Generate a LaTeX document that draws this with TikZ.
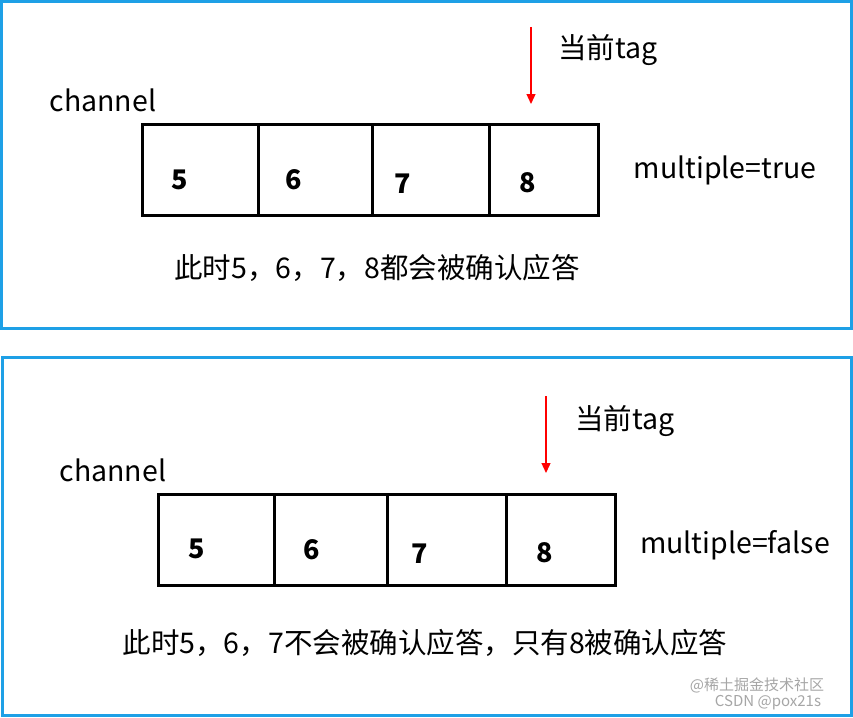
\documentclass[tikz,border=0pt]{standalone}
\usepackage{fontspec}
\setmainfont{Noto Sans CJK SC}
\begin{document}
\begin{tikzpicture}[x=1pt,y=-1pt,
  frame/.style={draw={rgb,255:red,30;green,160;blue,230},line width=3},
  cell/.style={draw=black,line width=3},
  num/.style={font=\fontsize{27}{27}\selectfont\bfseries},
  lbl/.style={font=\fontsize{28.5}{28.5}\selectfont},
  ptr/.style={draw=red,line width=1.3,-{Triangle[length=10,width=9]}},
  wm/.style={font=\fontsize{15}{15}\selectfont,text=gray!70}]
\usetikzlibrary{arrows.meta}
\useasboundingbox (0,0) rectangle (853,717);
\fill[white] (0,0) rectangle (853,717);
\draw[frame] (1.5,1.5) rectangle (851.5,328);
\draw[frame] (2.5,357) rectangle (851.5,715.5);
% top
\draw[cell] (142,124) rectangle (598,215);
\foreach \x in {258,372,489} \draw[cell] (\x,124) -- (\x,215);
\node[num] (a5) at (180,180) {5};
\node[num] (a6) at (294,180) {6};
\node[num] (a7) at (403,184) {7};
\node[num] (a8) at (528,183) {8};
\node[lbl] (ach) at (103,100) {channel};
\coordinate (at) at (531,27);
\coordinate (ah) at (531,104);
\draw[ptr] (at) -- (ah);
\node[lbl] (atag) at (608,50) {当前tag};
\node[lbl] (amul) at (725,170) {multiple=true};
\node[lbl] (atxt) at (377,268) {此时5，6，7，8都会被确认应答};
% bottom
\draw[cell] (158,494) rectangle (615,585);
\foreach \x in {274,387,506} \draw[cell] (\x,494) -- (\x,585);
\node[num] (b5) at (197,549) {5};
\node[num] (b6) at (312,550) {6};
\node[num] (b7) at (420,554) {7};
\node[num] (b8) at (545,553) {8};
\node[lbl] (bch) at (113,470) {channel};
\coordinate (bt) at (546,396);
\coordinate (bh) at (546,473);
\draw[ptr] (bt) -- (bh);
\node[lbl] (btag) at (625,421) {当前tag};
\node[lbl] (bmul) at (735,545) {multiple=false};
\node[lbl] (btxt) at (425,643) {此时5，6，7不会被确认应答，只有8被确认应答};
\node[wm] (w1) at (757,685) {@稀土掘金技术社区};
\node[wm] (w2) at (768,703) {CSDN @pox21s};
\end{tikzpicture}
\end{document}
